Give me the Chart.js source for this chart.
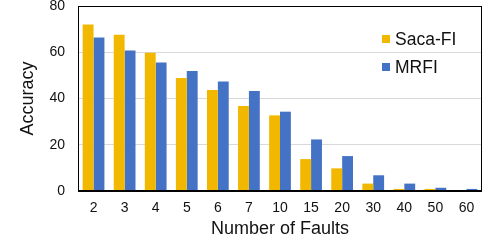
<!DOCTYPE html>
<html>
<head>
<meta charset="utf-8">
<script src="https://cdn.jsdelivr.net/npm/chart.js@4/dist/chart.umd.min.js"></script>
<style>
    html, body { margin: 0; padding: 0; background: #fff; }
    #wrap { position: relative; width: 488px; height: 244px; }
    #legend { position: absolute; left: 382px; top: 25px; font-family: "Liberation Sans", Arial, sans-serif; font-size: 17.5px; color: #111; }
    #legend div { display: flex; align-items: center; height: 28px; }
    #legend span.box { display: inline-block; width: 8px; height: 8px; margin-right: 5px; }
</style>
</head>
<body>
<div id="wrap">
    <canvas id="faultChart" width="488" height="244"></canvas>
    <div id="legend"></div>
</div>
<script>
const FAULTS = ['2', '3', '4', '5', '6', '7', '10', '15', '20', '30', '40', '50', '60'];
const SACA_FI = [72, 67.6, 59.8, 48.9, 43.7, 36.8, 32.7, 13.8, 9.8, 3.2, 0.9, 0.9, 0];
const MRFI = [66.4, 60.8, 55.6, 51.9, 47.3, 43.2, 34.3, 22.3, 15.1, 6.8, 3.2, 1.4, 0.9];
const Y_TICKS = [0, 20, 40, 60, 80];

const SERIES_NAMES = ['Saca-FI', 'MRFI'];
const COLORS = ['#F2B800', '#4472C4'];

const FONT = '"Liberation Sans", Arial, sans-serif';

// cadre noir autour de la zone de tracé
const frame = {
    id: 'frame',
    afterDraw(chart) {
        const { ctx, chartArea: a } = chart;
        ctx.save();
        ctx.strokeStyle = '#000';
        ctx.lineWidth = 1;
        ctx.strokeRect(a.left + 0.5, a.top + 0.5, a.right - a.left - 1, a.bottom - a.top);
        ctx.lineWidth = 2;
        ctx.beginPath();
        ctx.moveTo(a.left, a.bottom);
        ctx.lineTo(a.right, a.bottom);
        ctx.stroke();
        ctx.restore();
    }
};

new Chart(document.getElementById('faultChart'), {
    type: 'bar',
    data: {
        labels: FAULTS,
        datasets: [
            { label: SERIES_NAMES[0], data: SACA_FI, backgroundColor: COLORS[0] },
            { label: SERIES_NAMES[1], data: MRFI, backgroundColor: COLORS[1] }
        ]
    },
    options: {
        responsive: false,
        animation: false,
        layout: { padding: { top: 6, right: 6, left: 0, bottom: 0 } },
        datasets: { bar: { categoryPercentage: 0.7, barPercentage: 1.0 } },
        plugins: { legend: { display: false }, tooltip: { enabled: false } },
        scales: {
            x: {
                grid: { display: false, drawTicks: false },
                border: { display: false },
                ticks: { color: '#111', font: { family: FONT, size: 14 }, padding: 9 },
                title: { display: true, text: 'Number of Faults', color: '#111', font: { family: FONT, size: 18 }, padding: { top: 1 } },
                afterFit(scale) { scale.height = 53; }
            },
            y: {
                min: 0,
                max: 80,
                afterBuildTicks(scale) { scale.ticks = Y_TICKS.map(v => ({ value: v })); },
                grid: { color: '#d9d9d9', drawTicks: false },
                border: { display: false },
                ticks: { color: '#111', font: { family: FONT, size: 14 }, padding: 13 },
                title: { display: true, text: 'Accuracy', color: '#111', font: { family: FONT, size: 18 }, padding: { top: 17, bottom: 0 } },
                afterFit(scale) {
                    scale.width = 78;
                    scale.paddingTop = 0;
                    scale.paddingBottom = 0;
                }
            }
        }
    },
    plugins: [frame]
});

// légende HTML dans le coin haut droit
const legend = document.getElementById('legend');
SERIES_NAMES.forEach((name, i) => {
    const row = document.createElement('div');
    row.innerHTML = `<span class="box" style="background:${COLORS[i]}"></span>${name}`;
    legend.appendChild(row);
});
</script>
</body>
</html>
